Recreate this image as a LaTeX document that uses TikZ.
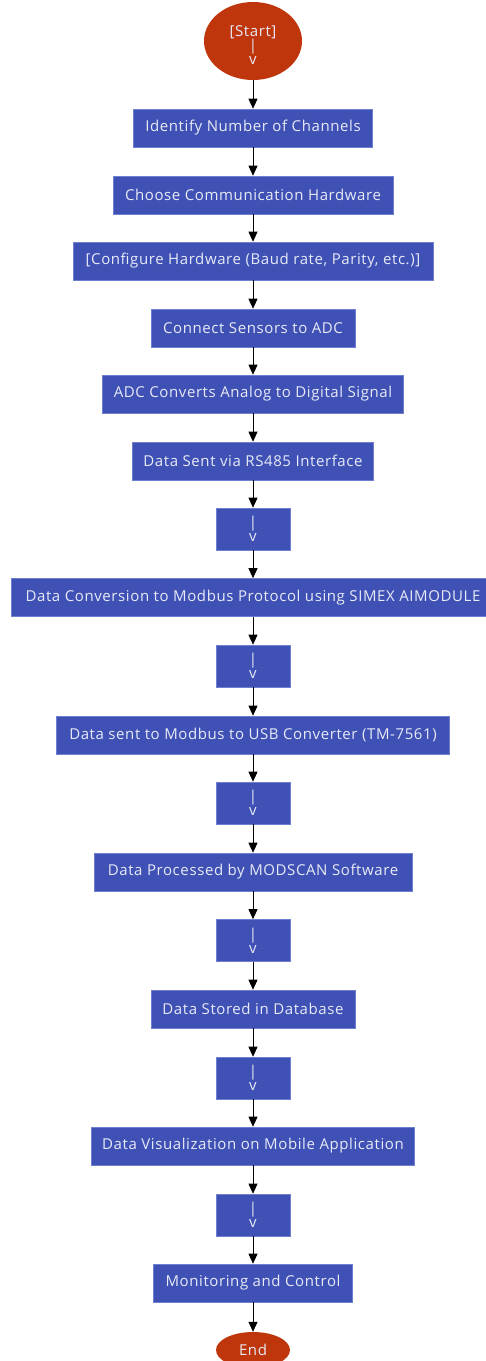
\documentclass[tikz,border=0pt]{standalone}
\usepackage{fontspec}
\setmainfont{Open Sans}[LetterSpace=4]
\usetikzlibrary{arrows.meta,shapes.geometric}
\definecolor{boxblue}{HTML}{3F51B5}
\definecolor{boxedge}{HTML}{6F7FD0}
\definecolor{termred}{HTML}{BF360C}
\definecolor{txt}{HTML}{E8EAF6}
\tikzset{
  stepbox/.style={rectangle, fill=boxblue, draw=boxedge, line width=0.6pt, inner sep=0pt,
    text=txt, font=\fontsize{15}{14}\selectfont, align=center, minimum height=38pt},
  pipebox/.style={stepbox, minimum width=74pt, minimum height=42pt},
  term/.style={ellipse, fill=termred, draw=none, inner sep=0pt, text=txt,
    font=\fontsize{15}{14}\selectfont, align=center},
  flow/.style={draw=black, line width=0.8pt, -{Triangle[length=10pt,width=9pt]}, shorten >=0pt}
}
\begin{document}
\begin{tikzpicture}[x=1pt,y=-1pt]
\useasboundingbox (0,0) rectangle (486,1361);
\node[term, minimum width=98pt, minimum height=78pt] (start) at (253,41) {\rule{0pt}{19pt}[Start]\\|\\v};
\node[stepbox, minimum width=239pt] (n1) at (253,128) {Identify Number of Channels};
\node[stepbox, minimum width=280pt] (n2) at (253,195) {Choose Communication Hardware};
\node[stepbox, minimum width=360pt] (n3) at (253,261) {[Configure Hardware (Baud rate, Parity, etc.)]};
\node[stepbox, minimum width=204pt] (n4) at (253,328) {Connect Sensors to ADC};
\node[stepbox, minimum width=301pt] (n5) at (253,394) {ADC Converts Analog to Digital Signal};
\node[stepbox, minimum width=241pt] (n6) at (253,461) {Data Sent via RS485 Interface};
\node[pipebox] (p1) at (253,529) {|\\v};
\node[stepbox, minimum width=484pt] (n7) at (253,597.5) {Data Conversion to Modbus Protocol using SIMEX AIMODULE};
\node[pipebox] (p2) at (253,666) {|\\v};
\node[stepbox, minimum width=393pt] (n8) at (253,735) {Data sent to Modbus to USB Converter (TM-7561)};
\node[pipebox] (p3) at (253,803) {|\\v};
\node[stepbox, minimum width=318pt] (n9) at (253,872) {Data Processed by MODSCAN Software};
\node[pipebox] (p4) at (253,940.5) {|\\v};
\node[stepbox, minimum width=204pt] (n10) at (253,1009) {Data Stored in Database};
\node[pipebox] (p5) at (253,1078) {|\\v};
\node[stepbox, minimum width=323pt] (n11) at (253,1146) {Data Visualization on Mobile Application};
\node[pipebox] (p6) at (253,1215) {|\\v};
\node[stepbox, minimum width=199pt] (n12) at (253,1283) {Monitoring and Control};
\node[term, minimum width=74pt, minimum height=36pt] (end) at (253,1350) {End};
\foreach \a/\b in {start/n1,n1/n2,n2/n3,n3/n4,n4/n5,n5/n6,n6/p1,p1/n7,n7/p2,p2/n8,n8/p3,p3/n9,n9/p4,p4/n10,n10/p5,p5/n11,n11/p6,p6/n12,n12/end}
  \draw[flow] (\a) -- (\b);
\end{tikzpicture}
\end{document}
